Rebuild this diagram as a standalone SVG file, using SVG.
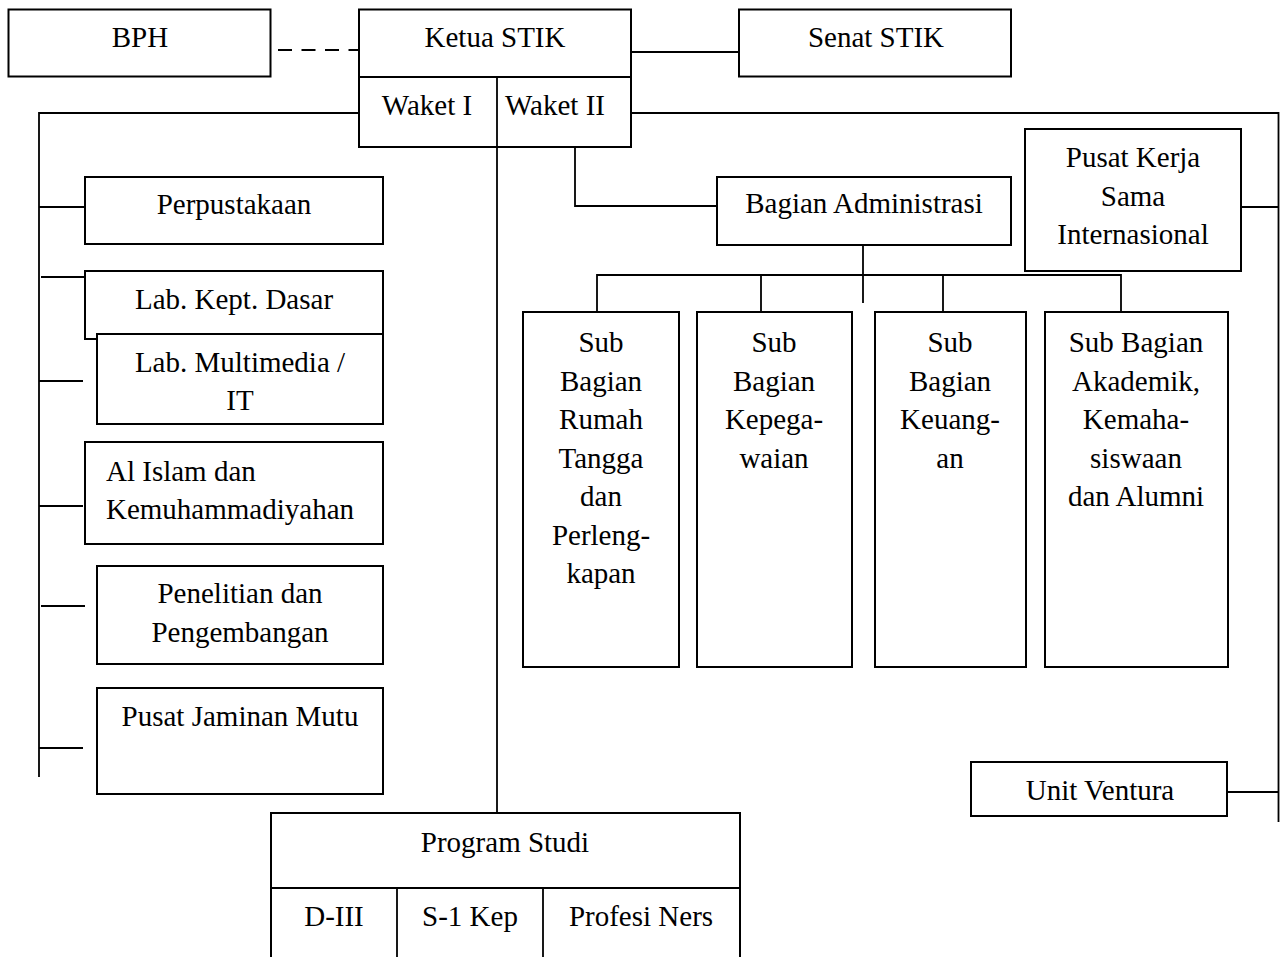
<svg xmlns="http://www.w3.org/2000/svg" width="1281" height="957" viewBox="0 0 1281 957">
<style>
.box{fill:#fff;stroke:#000;stroke-width:2}
.ln{fill:none;stroke:#000;stroke-width:1.8}
.dash{fill:none;stroke:#000;stroke-width:2;stroke-dasharray:14 9.5}
text{font-family:"Liberation Serif","Times New Roman",serif;font-size:29px;fill:#000}
.c{text-anchor:middle}
</style>
<rect width="1281" height="957" fill="#fff"/>
<g id="connectors">
<path class="dash" d="M278 50H359"/>
<path class="ln" d="M631 52H739"/>
<path class="ln" d="M359 113H39V777"/>
<path class="ln" d="M631 113H1278.5V822"/>
<path class="ln" d="M497 147V813"/>
<path class="ln" d="M575 147V206H717"/>
<path class="ln" d="M863 245V303"/>
<path class="ln" d="M597 312V275H1121V312"/>
<path class="ln" d="M761 275V312M943 275V312"/>
<path class="ln" d="M1241 207H1278.5"/>
<path class="ln" d="M1227 792H1278.5"/>
<path class="ln" d="M39 207H85"/>
<path class="ln" d="M41 277H85"/>
<path class="ln" d="M39 381H83"/>
<path class="ln" d="M39 506H83"/>
<path class="ln" d="M41 606H85"/>
<path class="ln" d="M39 748H83"/>
</g>
<g id="bph"><rect class="box" x="8.5" y="9.5" width="262" height="67"/><text class="c" x="140" y="47">BPH</text></g>
<g id="ketua"><rect class="box" x="359" y="9.5" width="272" height="137.5"/><path class="ln" d="M359 77H631M497 77V147"/><text class="c" x="495" y="47">Ketua STIK</text><text class="c" x="427" y="115">Waket I</text><text class="c" x="555" y="115">Waket II</text></g>
<g id="senat"><rect class="box" x="739" y="9.5" width="272" height="67"/><text class="c" x="876" y="47">Senat STIK</text></g>
<g id="bagian-admin"><rect class="box" x="717" y="177" width="294" height="68"/><text class="c" x="864" y="213">Bagian Administrasi</text></g>
<g id="pusat-kerja"><rect class="box" x="1025" y="129" width="216" height="142"/><text class="c" x="1133" y="167">Pusat Kerja</text><text class="c" x="1133" y="206">Sama</text><text class="c" x="1133" y="244">Internasional</text></g>
<g id="sub-rumah-tangga"><rect class="box" x="523" y="312" width="156" height="355"/>
<text class="c" x="601" y="352">Sub</text><text class="c" x="601" y="390.5">Bagian</text><text class="c" x="601" y="429">Rumah</text><text class="c" x="601" y="467.5">Tangga</text><text class="c" x="601" y="506">dan</text><text class="c" x="601" y="544.5">Perleng-</text><text class="c" x="601" y="583">kapan</text></g>
<g id="sub-kepegawaian"><rect class="box" x="697" y="312" width="155" height="355"/>
<text class="c" x="774" y="352">Sub</text><text class="c" x="774" y="390.5">Bagian</text><text class="c" x="774" y="429">Kepega-</text><text class="c" x="774" y="467.5">waian</text></g>
<g id="sub-keuangan"><rect class="box" x="875" y="312" width="151" height="355"/>
<text class="c" x="950" y="352">Sub</text><text class="c" x="950" y="390.5">Bagian</text><text class="c" x="950" y="429">Keuang-</text><text class="c" x="950" y="467.5">an</text></g>
<g id="sub-akademik"><rect class="box" x="1045" y="312" width="183" height="355"/>
<text class="c" x="1136" y="352">Sub Bagian</text><text class="c" x="1136" y="390.5">Akademik,</text><text class="c" x="1136" y="429">Kemaha-</text><text class="c" x="1136" y="467.5">siswaan</text><text class="c" x="1136" y="506">dan Alumni</text></g>
<g id="unit-ventura"><rect class="box" x="971" y="762" width="256" height="54"/><text class="c" x="1100" y="800">Unit Ventura</text></g>
<g id="perpustakaan"><rect class="box" x="85" y="177" width="298" height="67"/><text class="c" x="234" y="214">Perpustakaan</text></g>
<g id="lab-kept"><rect class="box" x="85" y="271" width="298" height="68"/><text class="c" x="234" y="309">Lab. Kept. Dasar</text></g>
<g id="lab-multimedia"><rect class="box" x="97" y="334" width="286" height="90"/><text class="c" x="240" y="372">Lab. Multimedia /</text><text class="c" x="240" y="410">IT</text></g>
<g id="al-islam"><rect class="box" x="85" y="442" width="298" height="102"/><text x="106" y="481">Al Islam dan</text><text x="106" y="519">Kemuhammadiyahan</text></g>
<g id="penelitian"><rect class="box" x="97" y="566" width="286" height="98"/><text class="c" x="240" y="603">Penelitian dan</text><text class="c" x="240" y="642">Pengembangan</text></g>
<g id="pusat-jaminan"><rect class="box" x="97" y="688" width="286" height="106"/><text class="c" x="240" y="726">Pusat Jaminan Mutu</text></g>
<g id="program-studi"><rect class="box" x="271" y="813" width="469" height="160"/><path class="ln" d="M271 888H740M397 888V957M543 888V957"/>
<text class="c" x="505" y="852">Program Studi</text><text class="c" x="334" y="926">D-III</text><text class="c" x="470" y="926">S-1 Kep</text><text class="c" x="641" y="926">Profesi Ners</text></g>
</svg>
